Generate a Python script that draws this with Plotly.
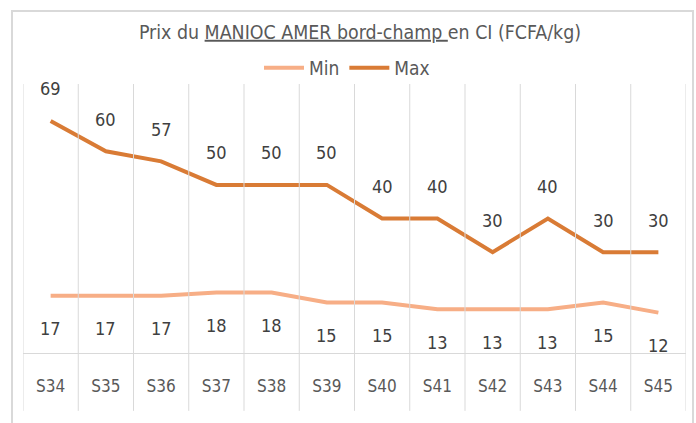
import plotly.graph_objects as go

semaines = ["S34", "S35", "S36", "S37", "S38", "S39", "S40", "S41", "S42", "S43", "S44", "S45"]
prix_min = [17, 17, 17, 18, 18, 15, 15, 13, 13, 13, 15, 12]
prix_max = [69, 60, 57, 50, 50, 50, 40, 40, 30, 40, 30, 30]

FONT = "DejaVu Sans Condensed, Liberation Sans Narrow, sans-serif"
COL_MIN = "#F7AE86"
COL_MAX = "#D97B35"

fig = go.Figure()
fig.add_trace(go.Scatter(x=semaines, y=prix_min, name="Min", mode="lines",
                         line=dict(color=COL_MIN, width=4)))
fig.add_trace(go.Scatter(x=semaines, y=prix_max, name="Max", mode="lines",
                         line=dict(color=COL_MAX, width=4)))

# data labels, offset like in the excel chart
for s, v in zip(semaines, prix_max):
    fig.add_annotation(x=s, y=v, text=str(v), showarrow=False, yshift=32,
                       font=dict(size=18, color="#404040", family=FONT))
for s, v in zip(semaines, prix_min):
    fig.add_annotation(x=s, y=v, text=str(v), showarrow=False, yshift=-33,
                       font=dict(size=18, color="#404040", family=FONT))

# table-style category axis: vertical lines run down through the labels
for i in range(len(semaines) + 1):
    fig.add_shape(type="line", xref="x", yref="paper", x0=i - 0.5, x1=i - 0.5,
                  y0=-0.215, y1=1, line=dict(color="#D9D9D9", width=1))

# chart border
fig.add_shape(type="rect", xref="paper", yref="paper", x0=-0.0166, x1=1.0106,
              y0=-0.3, y1=1.271, line=dict(color="#D9D9D9", width=2))

fig.update_layout(
    width=696, height=423,
    margin=dict(l=23, r=10, t=84, b=70, autoexpand=False),
    paper_bgcolor="white", plot_bgcolor="white",
    font=dict(family=FONT, color="#595959"),
    title=dict(text="Prix du <u>MANIOC AMER bord-champ </u>en CI (FCFA/kg)",
               xref="container", x=360 / 696, xanchor="center",
               yref="container", y=1 - 32 / 423, yanchor="middle",
               font=dict(size=19.4, color="#595959", family=FONT)),
    legend=dict(orientation="h", xref="container", x=347 / 696, xanchor="center",
                yref="container", y=1 - 68 / 423, yanchor="middle",
                font=dict(size=19, color="#595959", family=FONT),
                itemwidth=40, bgcolor="rgba(0,0,0,0)"),
    showlegend=True,
)
fig.update_xaxes(showgrid=False, showline=True, linecolor="#D9D9D9", linewidth=1,
                 ticks="", tickfont=dict(size=17, color="#595959"),
                 ticklabelstandoff=18, range=[-0.5, len(semaines) - 0.5])
fig.update_yaxes(range=[0, 80], visible=False, showgrid=False)

fig.write_html("out.html", config={"displayModeBar": False},
               post_script="document.body.style.margin='0';")
